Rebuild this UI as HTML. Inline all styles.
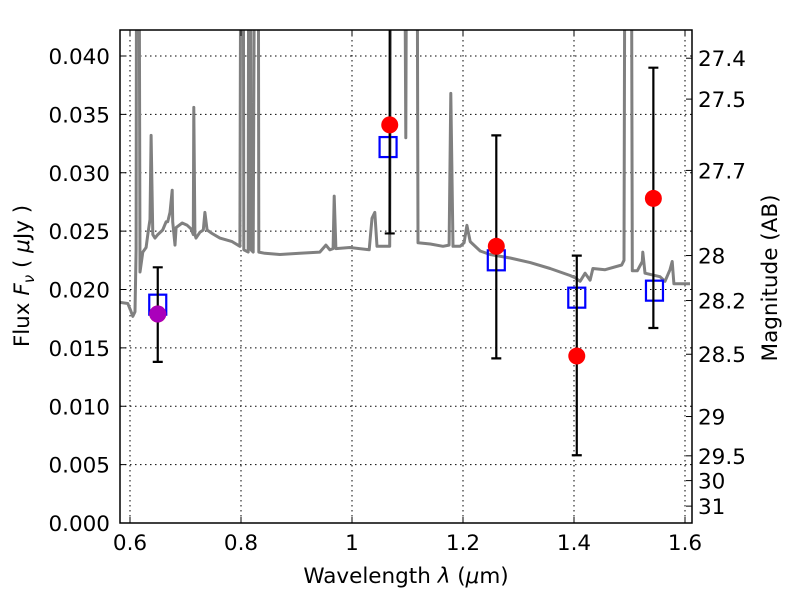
<!DOCTYPE html>
<html><head><meta charset="utf-8"><style>
body{margin:0;background:#fff}
text{font-family:"DejaVu Sans","Liberation Sans",sans-serif;font-size:21.5px;fill:#000}
</style></head><body>
<svg id="chart" width="800" height="600" xmlns="http://www.w3.org/2000/svg">
<defs><clipPath id="clip"><rect x="120" y="30" width="572" height="493"/></clipPath></defs>
<rect x="0" y="0" width="800" height="600" fill="#fff"/>
<g id="grid"></g>
<g id="spec" clip-path="url(#clip)"></g>
<g id="pts" clip-path="url(#clip)"></g>
<rect x="120" y="30" width="572" height="493" fill="none" stroke="#000" stroke-width="1.5"/>
<g id="axes"></g>
<text x="406" y="583" text-anchor="middle" font-size="23">Wavelength  <tspan font-style="italic">λ</tspan> (<tspan font-style="italic">μ</tspan>m)</text>
<text transform="translate(29,276) rotate(-90)" text-anchor="middle" font-size="23">Flux  <tspan font-style="italic">F</tspan><tspan font-style="italic" font-size="15" dy="5">ν</tspan><tspan dy="-5">  ( </tspan><tspan font-style="italic">μ</tspan>Jy )</text>
<text transform="translate(777,278) rotate(-90)" text-anchor="middle" font-size="23">Magnitude (AB)</text>
</svg>
<script>
const specLam=[0.582,0.596,0.602,0.605,0.609,0.611,0.612,0.616,0.618,0.623,0.629,0.632,0.636,0.638,0.641,0.645,0.650,0.659,0.665,0.668,0.672,0.676,0.677,0.681,0.683,0.694,0.703,0.710,0.714,0.715,0.717,0.719,0.726,0.732,0.735,0.739,0.748,0.762,0.784,0.798,0.800,0.804,0.805,0.813,0.814,0.817,0.818,0.822,0.825,0.831,0.832,0.843,0.870,0.906,0.942,0.953,0.960,0.966,0.968,0.971,0.996,1.031,1.036,1.041,1.045,1.068,1.070,1.094,1.097,1.099,1.117,1.119,1.141,1.164,1.175,1.178,1.182,1.195,1.202,1.207,1.213,1.231,1.249,1.285,1.321,1.357,1.393,1.402,1.411,1.420,1.429,1.434,1.456,1.486,1.490,1.492,1.503,1.505,1.514,1.523,1.524,1.528,1.555,1.564,1.573,1.577,1.580,1.609];
const specFlux=[.0189,.0188,.0181,.0177,.0181,.0234,.06,.06,.0215,.0232,.0236,.0247,.026,.0332,.0247,.0244,.0247,.0251,.0258,.0258,.0266,.0285,.0258,.0238,.0253,.0257,.0255,.0252,.0247,.0356,.0247,.0244,.0249,.0251,.0266,.0251,.0248,.0244,.0241,.0237,.06,.06,.0234,.0232,.06,.06,.0234,.0232,.06,.06,.0232,.0231,.0230,.0231,.0232,.0238,.0234,.0235,.028,.0235,.0236,.0234,.0261,.0266,.0237,.0237,.06,.06,.033,.06,.06,.0240,.0239,.0237,.0238,.0368,.0237,.0237,.0240,.0255,.0241,.0233,.0230,.0227,.0223,.0218,.0212,.0210,.0207,.0214,.0208,.0218,.0217,.0221,.0225,.06,.06,.0216,.0216,.0224,.0232,.0214,.0211,.0207,.0217,.0224,.0205,.0205];
const obsLam=[0.650,1.068,1.260,1.405,1.543];
const obsFlux=[0.0179,0.0341,0.0237,0.0143,0.0278];
const errLo=[0.0138,0.0248,0.0141,0.0058,0.0167];
const errHi=[0.0219,0.0500,0.0332,0.0229,0.0390];
const modLam=[0.650,1.065,1.260,1.405,1.545];
const modFlux=[0.0187,0.0322,0.0225,0.0193,0.0199];
const purpleLam=[0.650];
const purpleFlux=[0.0179];
const xTicks=[0.6,0.8,1.0,1.2,1.4,1.6];
const xTickLabels=["0.6","0.8","1","1.2","1.4","1.6"];
const yTicks=[0,0.005,0.01,0.015,0.02,0.025,0.03,0.035,0.04];
const magTicks=[27.4,27.5,27.7,28,28.2,28.5,29,29.5,30,31];

const X=v=>130+(v-0.6)*555;
const Y=v=>523-v*11675;
const magY=m=>Y(Math.pow(10,(23.9-m)/2.5));
const NS="http://www.w3.org/2000/svg";
function mk(tag,attrs,parent,txt){const e=document.createElementNS(NS,tag);for(const k in attrs)e.setAttribute(k,attrs[k]);if(txt!==undefined)e.textContent=txt;parent.appendChild(e);return e;}
const grid=document.getElementById('grid'),axes=document.getElementById('axes'),spec=document.getElementById('spec'),pts=document.getElementById('pts');
xTicks.forEach((t,i)=>{const x=X(t);
 const g=mk('line',{x1:x,x2:x,y1:30,y2:523,stroke:'#000','stroke-dasharray':'1.5,3.5','stroke-width':1},grid);
 
 mk('line',{x1:x,x2:x,y1:523,y2:517,stroke:'#000'},axes);mk('line',{x1:x,x2:x,y1:30,y2:36,stroke:'#000'},axes);
 const l=mk('text',{x:x,y:550,'text-anchor':'middle'},axes,xTickLabels[i]);
 });
yTicks.forEach(t=>{const y=Y(t);
 const g=mk('line',{x1:120,x2:692,y1:y,y2:y,stroke:'#000','stroke-dasharray':'1.5,3.5','stroke-width':1},grid);
 
 mk('line',{x1:120,x2:126,y1:y,y2:y,stroke:'#000'},axes);
 const l=mk('text',{x:110,y:y+8,'text-anchor':'end'},axes,t.toFixed(3));
 });
magTicks.forEach(m=>{const y=magY(m);
 mk('line',{x1:692,x2:686,y1:y,y2:y,stroke:'#000'},axes);
 const l=mk('text',{x:698,y:y+8},axes,String(m));
 });
let d=specLam.map((l,i)=>(i?'L':'M')+X(l).toFixed(1)+','+Y(specFlux[i]).toFixed(1)).join('');
const sp=mk('path',{d:d,fill:'none',stroke:'#808080','stroke-width':3,'stroke-linejoin':'round'},spec);

modLam.forEach((l,i)=>{const r=mk('rect',{x:X(l)-8.5,y:Y(modFlux[i])-10,width:17,height:20,fill:'none',stroke:'#0000ff','stroke-width':2.2},pts);
 });
obsLam.forEach((l,i)=>{const x=X(l);
 const e=mk('path',{d:`M${x},${Y(errLo[i])}L${x},${Y(errHi[i])}M${x-5},${Y(errLo[i])}L${x+5},${Y(errLo[i])}M${x-5},${Y(errHi[i])}L${x+5},${Y(errHi[i])}`,stroke:'#000','stroke-width':2.2,fill:'none'},pts);
 
 const c=mk('circle',{cx:x,cy:Y(obsFlux[i]),r:8.5,fill:'#ff0000'},pts);
 });
purpleLam.forEach((l,i)=>{const c=mk('circle',{cx:X(l),cy:Y(purpleFlux[i]),r:8.5,fill:'#aa00bb'},pts);
 });
</script>
</body></html>
